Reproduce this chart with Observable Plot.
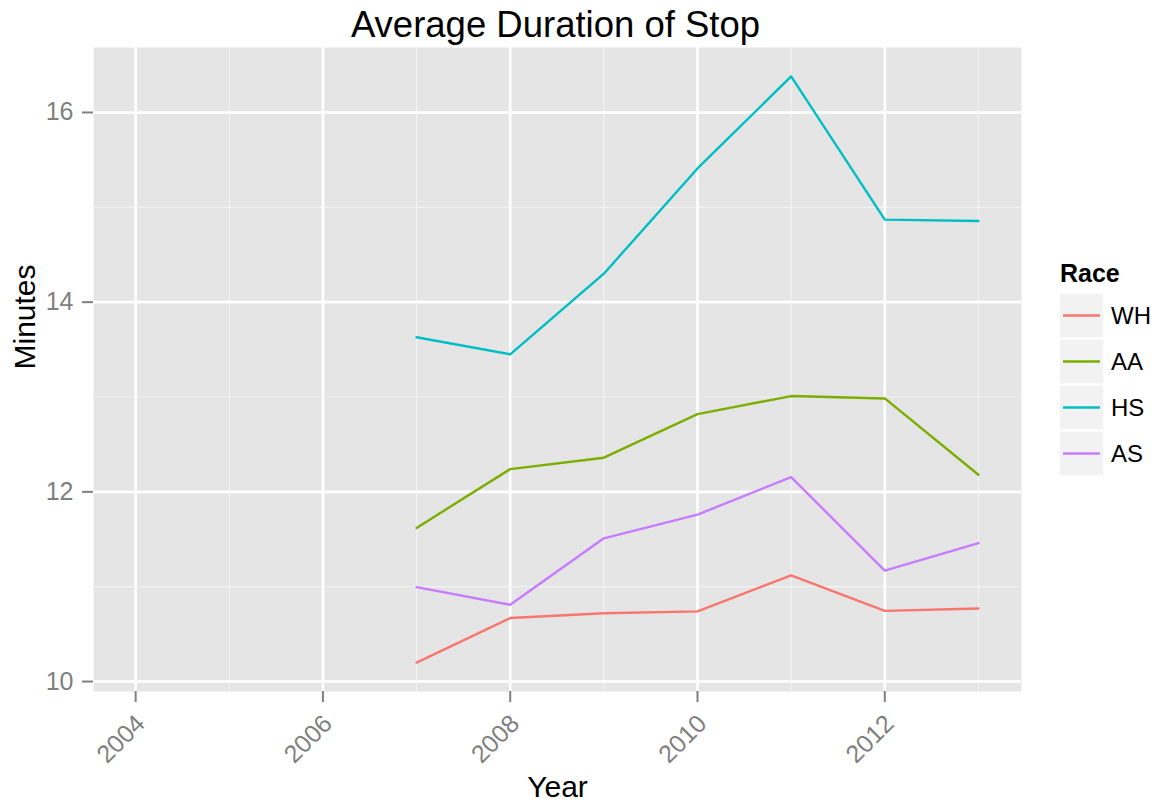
<!DOCTYPE html>
<html><head><meta charset="utf-8">
<script src="https://cdn.jsdelivr.net/npm/d3@7"></script>
<script src="https://cdn.jsdelivr.net/npm/@observablehq/plot@0.6"></script>
<style>
body{margin:0;background:#fff;}
#chart svg{font-family:"Liberation Sans",Arial,Helvetica,sans-serif;overflow:visible;}
</style>
</head><body><div id="chart"></div>
<script>
const years = [2007, 2008, 2009, 2010, 2011, 2012, 2013];
const races = ["WH", "AA", "HS", "AS"];
const valuesWH = [10.20, 10.67, 10.72, 10.74, 11.12, 10.745, 10.77];
const valuesAA = [11.62, 12.24, 12.36, 12.82, 13.01, 12.985, 12.18];
const valuesHS = [13.63, 13.45, 14.30, 15.41, 16.38, 14.87, 14.855];
const valuesAS = [10.995, 10.81, 11.51, 11.76, 12.155, 11.17, 11.46];
const raceColors = ["#F8766D", "#7CAE00", "#00BFC4", "#C77CFF"];
const xMajorTicks = [2004, 2006, 2008, 2010, 2012];
const xMinorTicks = [2005, 2007, 2009, 2011, 2013];
const yMajorTicks = [10, 12, 14, 16];
const yMinorTicks = [11, 13, 15];
const titleText = "Average Duration of Stop";
const xLabel = "Year";
const yLabel = "Minutes";
const legendTitle = "Race";

const seriesValues = [valuesWH, valuesAA, valuesHS, valuesAS];
const data = races.flatMap((r, i) => years.map((y, j) => ({race: r, year: y, value: seriesValues[i][j]})));

const font = "\"Liberation Sans\",Arial,Helvetica,sans-serif";
const grey50 = "#7F7F7F";

const plot = Plot.plot({
  width: 1161,
  height: 803,
  marginLeft: 93,
  marginRight: 140,
  marginTop: 47,
  marginBottom: 112,
  style: {fontFamily: font, background: "#fff", overflow: "visible"},
  x: {domain: [2003.55, 2013.46]},
  y: {domain: [9.895, 16.685]},
  color: {domain: races, range: raceColors},
  marks: [
    Plot.frame({fill: "#E5E5E5", stroke: "none"}),
    Plot.ruleX(xMinorTicks, {stroke: "#F2F2F2", strokeWidth: 1.2}),
    Plot.ruleY(yMinorTicks, {stroke: "#F2F2F2", strokeWidth: 1.2}),
    Plot.ruleX(xMajorTicks, {stroke: "#FFFFFF", strokeWidth: 2.6}),
    Plot.ruleY(yMajorTicks, {stroke: "#FFFFFF", strokeWidth: 2.6}),
    Plot.lineY(data, {x: "year", y: "value", stroke: "race", z: "race", strokeWidth: 2.4}),
    // x tick marks
    Plot.axisX({ticks: xMajorTicks, tickFormat: () => "", tickSize: 11,
      stroke: grey50, fill: grey50, color: grey50, strokeWidth: 2, label: null}),
    // x tick labels (rotated)
    Plot.axisX({ticks: xMajorTicks, tickFormat: d => String(d), tickRotate: -45, tickSize: 0, tickPadding: 28, dx: 5,
      fontSize: 25, fill: grey50, color: grey50, label: null}),
    Plot.axisY({ticks: yMajorTicks, tickFormat: d => String(d), tickSize: 11, tickPadding: 9,
      fontSize: 25, stroke: grey50, fill: grey50, color: grey50, strokeWidth: 2, label: null}),
    Plot.text([titleText], {frameAnchor: "top", dy: -22, dx: -2, fontSize: 36.5, fill: "#000", lineAnchor: "middle"}),
    Plot.text([xLabel], {frameAnchor: "bottom", dy: 96, fontSize: 30, fill: "#000", lineAnchor: "middle"}),
    Plot.text([yLabel], {frameAnchor: "left", dx: -68, rotate: -90, fontSize: 30, fill: "#000", lineAnchor: "middle"})
  ]
});

document.getElementById("chart").appendChild(plot);

const svg = d3.select(plot);
// make sure tick labels get ggplot's size
svg.selectAll('g[aria-label="x-axis tick label"] text, g[aria-label="y-axis tick label"] text').style("font-size", "25px");

// ggplot-style legend built from the plot's color scale
const color = plot.scale("color");
const lg = svg.append("g").attr("font-family", font).attr("text-anchor", "start");
lg.append("text").attr("x", 1060).attr("y", 282).attr("font-size", 25).attr("font-weight", "bold")
  .attr("text-anchor", "start").attr("fill", "#000").text(legendTitle);
color.domain.forEach((r, i) => {
  const y0 = 293 + i * 46;
  lg.append("rect").attr("x", 1059).attr("y", y0).attr("width", 45).attr("height", 45)
    .attr("fill", "#F2F2F2").attr("stroke", "#fff").attr("stroke-width", 1.5);
  lg.append("line").attr("x1", 1063).attr("x2", 1100).attr("y1", y0 + 22.5).attr("y2", y0 + 22.5)
    .attr("stroke", color.range[i]).attr("stroke-width", 2.4);
  lg.append("text").attr("x", 1111).attr("y", y0 + 22.5).attr("dy", "0.35em").attr("font-size", 24)
    .attr("text-anchor", "start").attr("fill", "#000").text(r);
});
</script>
</body></html>
